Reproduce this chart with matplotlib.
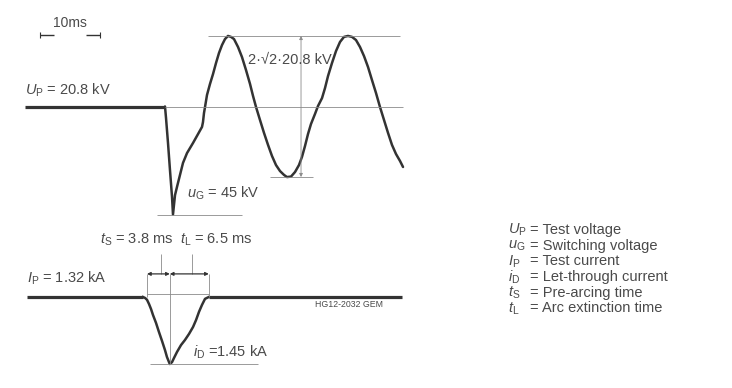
import numpy as np
import matplotlib
matplotlib.use("Agg")
import matplotlib.pyplot as plt

plt.rcParams['font.family'] = ['Liberation Sans', 'DejaVu Sans']
plt.rcParams['mathtext.fontset'] = 'custom'
plt.rcParams['mathtext.rm'] = 'Liberation Sans'
plt.rcParams['mathtext.it'] = 'Liberation Sans:italic'

# rated values printed on the oscillogram
U_TEST = 20.8      # kV
U_SWITCH = 45      # kV
I_TEST = 1.32      # kA
I_LET = 1.45       # kA
T_PRE = 3.8        # ms
T_ARC = 6.5        # ms
SCALE_MS = 10      # ms
U_PEAK = 29.4      # kV, half of 2*sqrt(2)*20.8

# voltage trace, time in ms from start of current, voltage in kV around the test level
t_volt = [-20.3, 3.0, 3.17, 3.5, 3.83, 4.17, 4.33, 4.67, 5.0, 5.5, 6.0, 6.67, 7.67, 8.5,
          9.17, 9.33, 9.5, 9.67, 10.0, 10.5, 11.0, 11.5, 12.0, 12.5, 13.0, 13.5, 14.0,
          14.5, 15.17, 15.83, 16.5, 17.17, 17.67, 18.17, 18.83, 19.5, 20.17, 20.83,
          21.5, 22.17, 22.83, 23.33, 24.0, 24.67, 25.33, 25.83, 26.33, 26.83, 27.33,
          28.0, 28.5, 29.17, 29.67, 30.17, 30.83, 31.5, 32.17, 32.83, 33.5, 34.17,
          34.83, 35.5, 36.17, 36.83, 37.5, 38.17, 38.83, 39.5, 40.17, 40.83, 41.5,
          42.17, 42.67]
u_volt = [0.0, 0.0, -4.8, -15.2, -26.5, -37.7, -45.0, -36.9, -33.5, -28.5, -23.5, -19.4,
          -15.2, -11.5, -8.5, -6.5, -2.7, -0.2, 4.8, 9.4, 13.5, 18.1, 22.3, 25.6, 28.1,
          29.4, 29.0, 28.1, 24.8, 20.6, 15.2, 9.4, 4.4, -0.2, -5.6, -11.0, -16.0, -20.6,
          -24.4, -26.9, -28.5, -29.4, -29.2, -27.3, -24.4, -21.0, -16.5, -11.5, -7.3,
          -3.1, 0.2, 3.5, 7.7, 12.7, 18.1, 23.1, 26.9, 29.0, 29.4, 29.0, 27.7, 24.8,
          21.0, 16.5, 11.0, 5.6, -0.2, -5.6, -11.0, -16.0, -19.8, -22.7, -25.2]

# current trace, kA around the test level
t_curr = [-20.0, -0.67, -0.33, 0.0, 0.33, 0.67, 1.0, 1.5, 2.0, 2.5, 3.0, 3.33, 3.67, 3.8,
          4.17, 4.5, 5.0, 5.67, 6.33, 7.0, 7.67, 8.17, 8.67, 9.17, 9.67, 10.3, 42.5]
i_curr = [0.0, 0.0, -0.02, -0.06, -0.15, -0.26, -0.39, -0.56, -0.76, -0.95, -1.15, -1.30,
          -1.41, -1.45, -1.41, -1.32, -1.19, -1.04, -0.93, -0.80, -0.65, -0.50, -0.32,
          -0.17, -0.04, 0.0, 0.0]

legend_symbols = [r'$U_\mathrm{P}$', r'$u_\mathrm{G}$', r'$I_\mathrm{P}$',
                  r'$i_\mathrm{D}$', r'$t_\mathrm{S}$', r'$t_\mathrm{L}$']
legend_texts = ['Test voltage', 'Switching voltage', 'Test current',
                'Let-through current', 'Pre-arcing time', 'Arc extinction time']

W, H = 732, 388
LINE = '#333333'
THIN = '#8a8a8a'
TXT = '#4a4a4a'
FS = 10.5

fig = plt.figure(figsize=(W / 100, H / 100), dpi=100)
fig.patch.set_facecolor('white')

# time axis shared by both traces: 6 px per ms, t=0 at x=147 px
x_lim = (-147 / 6, (W - 147) / 6)

# upper trace: voltage
ax_u = fig.add_axes([0, 1 - 230 / H, 1, 230 / H])
ax_u.set_xlim(*x_lim)
ax_u.set_ylim((106.5 - 230) / 2.4, 106.5 / 2.4)
ax_u.axis('off')

# lower trace: current
ax_i = fig.add_axes([0, 0, 1, 158 / H])
ax_i.set_xlim(*x_lim)
ax_i.set_ylim((297 - 388) / 46.2, (297 - 230) / 46.2)
ax_i.axis('off')

t_v = np.array(t_volt)
u_v = np.array(u_volt)
sw = 1
# thick level before switching, then the measured voltage
ax_u.plot(t_v[:sw + 1], u_v[:sw + 1], color=LINE, lw=2.3, solid_capstyle='butt')
ax_u.plot(t_v[sw:], u_v[sw:], color=LINE, lw=1.8, solid_joinstyle='round',
          solid_capstyle='round')

# reference lines
ax_u.hlines(0, 3.0, 42.67, color=THIN, lw=0.6)
ax_u.hlines(U_PEAK, 10.17, 42.2, color=THIN, lw=0.6)
ax_u.hlines(-U_PEAK, 20.5, 27.67, color=THIN, lw=0.6)
ax_u.hlines(-U_SWITCH, 1.67, 15.83, color=THIN, lw=0.6)
ax_u.annotate('', xy=(25.67, U_PEAK), xytext=(25.67, -U_PEAK),
              arrowprops=dict(arrowstyle='<|-|>', color=THIN, lw=0.6,
                              mutation_scale=5, shrinkA=0, shrinkB=0))

# 10 ms scale bar
sb_y = 29.8
sb_l, sb_r = -17.83, -17.83 + SCALE_MS
ax_u.hlines(sb_y, sb_l, sb_l + 2.3, color=LINE, lw=1.0)
ax_u.hlines(sb_y, sb_r - 2.3, sb_r, color=LINE, lw=1.0)
ax_u.vlines([sb_l, sb_r], sb_y - 1.3, sb_y + 1.3, color=LINE, lw=0.8)
ax_u.text((sb_l + sb_r) / 2, 34.8, f'{SCALE_MS}ms', ha='center', va='center',
          fontsize=10, color=TXT)

ax_u.text(-20.33, 6.9, rf'$U_\mathrm{{P}}$ = {U_TEST} kV', ha='left', va='center',
          fontsize=FS, color=TXT)
ax_u.text(16.83, 19.4, f'2·√2·{U_TEST} kV', ha='left', va='center',
          fontsize=FS, color=TXT)
ax_u.text(6.67, -36, rf'$u_\mathrm{{G}}$ = {U_SWITCH} kV', ha='left', va='center',
          fontsize=FS, color=TXT)

# current trace
t_c = np.array(t_curr)
i_c = np.array(i_curr)
ax_i.plot(t_c[:2], i_c[:2], color=LINE, lw=2.3, solid_capstyle='butt')
ax_i.plot(t_c[1:-1], i_c[1:-1], color=LINE, lw=1.8, solid_joinstyle='round')
ax_i.plot(t_c[-2:], i_c[-2:], color=LINE, lw=2.3, solid_capstyle='butt')

t_end = T_PRE + T_ARC
dim_y = 0.5
ax_i.hlines(-I_LET, 0.5, 18.5, color=THIN, lw=0.6)
ax_i.vlines(T_PRE, -I_LET, dim_y, color=THIN, lw=0.6)
ax_i.hlines(0.065, 0, t_end, color=THIN, lw=0.6)
ax_i.vlines([0, t_end], 0, dim_y, color=THIN, lw=0.6)
ax_i.vlines([2.33, 7.5], dim_y, 0.93, color=THIN, lw=0.6)
for a, b in [(0, T_PRE), (T_PRE, t_end)]:
    ax_i.annotate('', xy=(a, dim_y), xytext=(b, dim_y),
                  arrowprops=dict(arrowstyle='<|-|>', color=LINE, lw=0.9,
                                  mutation_scale=5, shrinkA=0, shrinkB=0))

ax_i.text(-20.0, 0.41, rf'$I_\mathrm{{P}}$ = {I_TEST} kA', ha='left', va='center',
          fontsize=FS, color=TXT)
ax_i.text(-7.83, 1.23, rf'$t_\mathrm{{S}}$ = {T_PRE} ms', ha='left', va='center',
          fontsize=FS, color=TXT)
ax_i.text(5.5, 1.23, rf'$t_\mathrm{{L}}$ = {T_ARC} ms', ha='left', va='center',
          fontsize=FS, color=TXT)
ax_i.text(7.67, -1.19, rf'$i_\mathrm{{D}}$ ={I_LET} kA', ha='left', va='center',
          fontsize=FS, color=TXT)
ax_i.text(28.0, -0.17, 'HG12-2032 GEM', ha='left', va='center',
          fontsize=6.3, color=TXT)

# symbol list on the right
for k, (sym, desc) in enumerate(zip(legend_symbols, legend_texts)):
    y = 1 - (230 + 15.7 * k) / H
    fig.text(508 / W, y, sym, ha='left', va='center', fontsize=FS, color=TXT)
    fig.text(530 / W, y, '= ' + desc, ha='left', va='center', fontsize=FS, color=TXT)

fig.savefig('out.png', dpi=100, facecolor='white')
